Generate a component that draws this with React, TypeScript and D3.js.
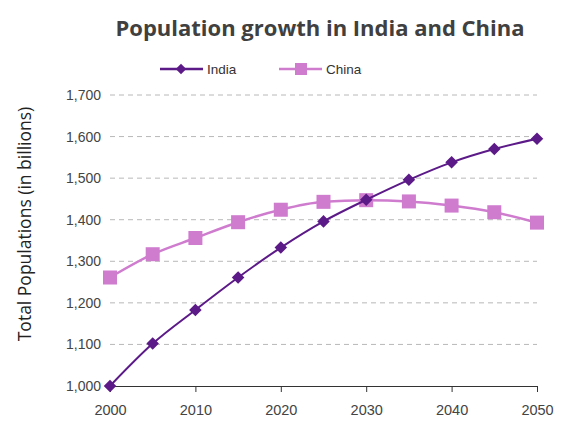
import React, { useEffect, useRef } from "react";
import * as d3 from "d3";

const years = [2000, 2005, 2010, 2015, 2020, 2025, 2030, 2035, 2040, 2045, 2050];
const india = [1000, 1102, 1183, 1261, 1333, 1396, 1448, 1496, 1538, 1570, 1595];
const china = [1261, 1317, 1356, 1394, 1424, 1443, 1447, 1444, 1434, 1418, 1393];
const yTicks = [1000, 1100, 1200, 1300, 1400, 1500, 1600, 1700];
const xTicks = [2000, 2010, 2020, 2030, 2040, 2050];

const INDIA = "#5c1a88";
const CHINA = "#cf7ccf";

export default function App() {
    const ref = useRef<SVGSVGElement | null>(null);

    useEffect(() => {
        const width = 574;
        const height = 436;
        const svg = d3.select(ref.current);
        svg.selectAll("*").remove();
        svg.attr("width", width).attr("height", height);

        const x = d3.scaleLinear().domain([2000, 2050]).range([110, 537]);
        const y = d3.scaleLinear().domain([1000, 1700]).range([386, 95]);

        // title
        svg.append("text")
            .attr("x", 320)
            .attr("y", 36)
            .attr("text-anchor", "middle")
            .attr("font-family", "Open Sans")
            .attr("font-weight", "bold")
            .attr("font-size", 22)
            .attr("fill", "#404040")
            .text("Population growth in India and China");

        // grid
        svg.append("g")
            .selectAll("line")
            .data(yTicks.filter((t) => t > 1000))
            .join("line")
            .attr("x1", 110)
            .attr("x2", 537)
            .attr("y1", (d) => y(d))
            .attr("y2", (d) => y(d))
            .attr("stroke", "#b8b8b8")
            .attr("stroke-width", 1)
            .attr("stroke-dasharray", "5,4");

        // y labels
        svg.append("g")
            .selectAll("text")
            .data(yTicks)
            .join("text")
            .attr("x", 101)
            .attr("y", (d) => y(d) + 5)
            .attr("text-anchor", "end")
            .attr("font-family", "Liberation Sans")
            .attr("font-size", 14)
            .attr("fill", "#444")
            .text((d) => d3.format(",")(d));

        // x axis
        const xAxis = d3.axisBottom(x).tickValues(xTicks).tickSize(6).tickFormat(d3.format("d"));
        const ax = svg.append("g").attr("transform", `translate(0,${y(1000)})`).call(xAxis);
        ax.select(".domain").attr("stroke", "#333");
        ax.selectAll(".tick line").attr("stroke", "#333");
        ax.selectAll(".tick text")
            .attr("font-family", "Liberation Sans")
            .attr("font-size", 14.5)
            .attr("fill", "#444")
            .attr("dy", "1.35em");

        // y axis title
        svg.append("text")
            .attr("transform", `translate(31,224) rotate(-90)`)
            .attr("text-anchor", "middle")
            .attr("font-family", "Open Sans")
            .attr("font-size", 17.5)
            .attr("fill", "#222")
            .text("Total Populations (in billions)");

        const line = d3.line<number>()
            .x((_, i) => x(years[i]))
            .y((d) => y(d))
            .curve(d3.curveMonotoneX);

        svg.append("path")
            .attr("d", line(china))
            .attr("fill", "none")
            .attr("stroke", CHINA)
            .attr("stroke-width", 2.5);

        svg.append("g")
            .selectAll("rect")
            .data(china)
            .join("rect")
            .attr("x", (_, i) => x(years[i]) - 7)
            .attr("y", (d) => y(d) - 7)
            .attr("width", 14)
            .attr("height", 14)
            .attr("fill", CHINA);

        svg.append("path")
            .attr("d", line(india))
            .attr("fill", "none")
            .attr("stroke", INDIA)
            .attr("stroke-width", 2);

        const diamond = d3.symbol(d3.symbolDiamond2, 100);
        svg.append("g")
            .selectAll("path")
            .data(india)
            .join("path")
            .attr("transform", (d, i) => `translate(${x(years[i])},${y(d)})`)
            .attr("d", diamond())
            .attr("fill", INDIA);

        // legend
        const lg = svg.append("g");
        lg.append("line").attr("x1", 160).attr("x2", 203).attr("y1", 69).attr("y2", 69)
            .attr("stroke", INDIA).attr("stroke-width", 2.5);
        lg.append("path").attr("transform", "translate(181,69)").attr("d", d3.symbol(d3.symbolDiamond2, 70)())
            .attr("fill", INDIA);
        lg.append("text").attr("x", 207).attr("y", 74).attr("font-family", "Liberation Sans")
            .attr("font-size", 13.5).attr("fill", "#333").text("India");
        lg.append("line").attr("x1", 279).attr("x2", 322).attr("y1", 69).attr("y2", 69)
            .attr("stroke", CHINA).attr("stroke-width", 2.5);
        lg.append("rect").attr("x", 295).attr("y", 63).attr("width", 12).attr("height", 12).attr("fill", CHINA);
        lg.append("text").attr("x", 326).attr("y", 74).attr("font-family", "Liberation Sans")
            .attr("font-size", 13.5).attr("fill", "#333").text("China");
    }, []);

    return (
        <div style={{ margin: -8, background: "#fff", width: 574, height: 436 }}>
            <svg ref={ref}></svg>
        </div>
    );
}
